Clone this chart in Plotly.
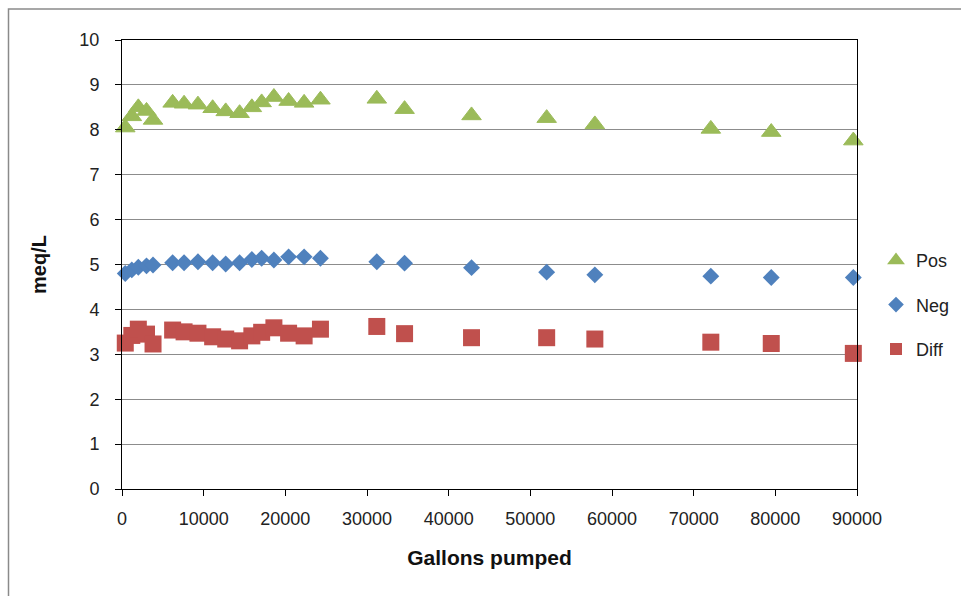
import plotly.graph_objects as go

# Gallons pumped at each sampling event
gallons = [400, 1200, 2000, 3000, 3800,
           6200, 7600, 9300, 11100, 12700, 14400, 15900, 17100, 18600, 20400, 22300, 24300,
           31200, 34600, 42800, 52000, 57900, 72100, 79500, 89550]

# Total cations (meq/L)
pos = [8.05, 8.30, 8.50, 8.42, 8.22,
       8.60, 8.58, 8.56, 8.48, 8.41, 8.37, 8.50, 8.61, 8.73, 8.64, 8.60, 8.67,
       8.69, 8.46, 8.32, 8.26, 8.12, 8.02, 7.95, 7.76]

# Total anions (meq/L)
neg = [4.80, 4.88, 4.94, 4.97, 4.99,
       5.04, 5.04, 5.06, 5.04, 5.01, 5.04, 5.11, 5.14, 5.10, 5.17, 5.17, 5.14,
       5.06, 5.03, 4.93, 4.83, 4.77, 4.74, 4.71, 4.71]

# Cation - anion difference (meq/L)
diff = [3.25, 3.42, 3.56, 3.45, 3.23,
        3.54, 3.50, 3.47, 3.39, 3.34, 3.30, 3.41, 3.49, 3.59, 3.47, 3.41, 3.56,
        3.62, 3.46, 3.37, 3.37, 3.34, 3.27, 3.24, 3.02]

x_ticks = [0, 10000, 20000, 30000, 40000, 50000, 60000, 70000, 80000, 90000]
y_ticks = list(range(0, 11))

FONT = "Liberation Sans, Arial, sans-serif"
GREEN = "#9BBB59"
BLUE = "#4F81BD"
RED = "#C0504D"

# page geometry (pixels)
W, H = 961, 596
ML, MT, MB = 122, 40, 107
PAPER_W = W - ML            # paper spans from left margin to right page edge
PAPER_H = H - MT - MB
PLOT_RIGHT = 857            # right edge of the plotting area


def px_x(px):
    return (px - ML) / PAPER_W


def px_y(py):
    return (H - MB - py) / PAPER_H


fig = go.Figure()
fig.add_trace(go.Scatter(
    x=gallons, y=pos, mode="markers", name="Pos", cliponaxis=False,
    marker=dict(symbol="triangle-up", size=17, color=GREEN, line=dict(width=1, color=GREEN)),
    legendgroup="a"))
fig.add_trace(go.Scatter(
    x=gallons, y=neg, mode="markers", name="Neg", cliponaxis=False,
    marker=dict(symbol="diamond", size=13, color=BLUE, line=dict(width=0)),
    legendgroup="b"))
fig.add_trace(go.Scatter(
    x=gallons, y=diff, mode="markers", name="Diff", cliponaxis=False,
    marker=dict(symbol="square", size=17, color=RED, line=dict(width=0)),
    legendgroup="c"))

fig.update_layout(
    width=W, height=H,
    margin=dict(l=ML, r=0, t=MT, b=MB, autoexpand=False),
    paper_bgcolor="white", plot_bgcolor="white",
    font=dict(family=FONT, size=18, color="#222222"),
    showlegend=True,
    legend=dict(
        x=px_x(876), y=px_y(305), xanchor="left", yanchor="middle",
        font=dict(family=FONT, size=18, color="#222222"),
        tracegroupgap=18, itemsizing="constant", itemwidth=30,
        bgcolor="rgba(0,0,0,0)",
    ),
    xaxis=dict(
        domain=[0, px_x(PLOT_RIGHT)],
        range=[0, 90000], tickvals=x_ticks, ticktext=[str(v) for v in x_ticks],
        showgrid=False, zeroline=False,
        showline=True, linecolor="black", linewidth=1, mirror=True,
        ticks="outside", ticklen=6, tickcolor="black", ticklabelstandoff=7,
        title=dict(text="<b>Gallons pumped</b>", font=dict(family=FONT, size=21, color="#111111"), standoff=22),
    ),
    yaxis=dict(
        range=[0, 10], tickvals=y_ticks,
        showgrid=True, gridcolor="#8c8c8c", gridwidth=1, zeroline=False,
        showline=True, linecolor="black", linewidth=1, mirror=True,
        ticks="outside", ticklen=6, tickcolor="black", ticklabelstandoff=12,
        title=dict(text="<b>meq/L</b>", font=dict(family=FONT, size=20, color="#111111"), standoff=27),
    ),
    shapes=[dict(
        type="rect", xref="paper", yref="paper",
        x0=px_x(8.5), x1=px_x(1100), y0=px_y(700), y1=px_y(9),
        line=dict(color="#8a8a8a", width=1.5), fillcolor="rgba(0,0,0,0)", layer="below",
    )],
)

fig.write_html("out.html")
